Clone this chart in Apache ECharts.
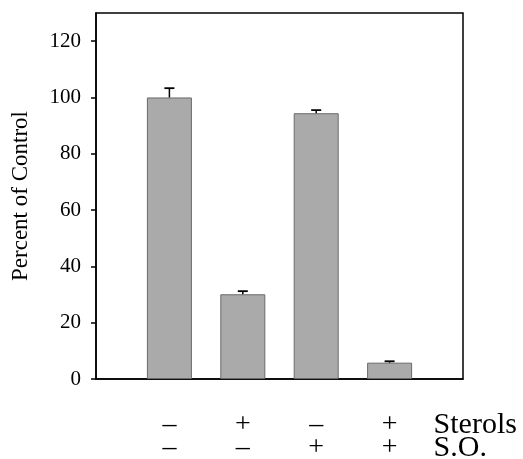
<!DOCTYPE html>
<html>
<head>
<meta charset="utf-8">
<script src="https://cdn.jsdelivr.net/npm/echarts@6/dist/echarts.min.js"></script>
<style>
html,body{margin:0;padding:0;background:#fff;}
#chart{width:523px;height:459px;}
</style>
</head>
<body>
<div id="chart"></div>
<script>
// Data
var positions = [1, 2, 3, 4];
var sterolsRow = ['\u2013', '+', '\u2013', '+'];
var soRow = ['\u2013', '\u2013', '+', '+'];
var rowNames = ['Sterols', 'S.O.'];
var percentValues = [100, 30.1, 94.4, 5.8];
var errorUpper = [103.3, 31.2, 95.5, 6.3];
var yTicks = [0, 20, 40, 60, 80, 100, 120];
var yAxisTitle = 'Percent of Control';

var FONT = "'Liberation Serif', 'Times New Roman', serif";

var chart = echarts.init(document.getElementById('chart'), null, {renderer: 'canvas'});

var barData = positions.map(function (p, i) { return [p, percentValues[i]]; });
var errData = positions.map(function (p, i) { return [p, percentValues[i], errorUpper[i]]; });

var option = {
  backgroundColor: '#fff',
  animation: false,
  grid: {
    left: 96, right: 60, top: 13, bottom: 80,
    outerBoundsMode: 'none', containLabel: false,
    show: true, borderColor: '#000', borderWidth: 1.5, backgroundColor: 'transparent'
  },
  xAxis: {
    type: 'value', min: 0, max: 5, interval: 1,
    axisLine: {show: true, lineStyle: {color: '#000', width: 1.5}},
    axisTick: {show: false},
    splitLine: {show: false},
    axisLabel: {
      margin: 34,
      fontFamily: FONT, fontSize: 28, color: '#000', lineHeight: 23,
      formatter: function (v) {
        var i = positions.indexOf(v);
        if (i < 0) return '';
        return sterolsRow[i] + '\n' + soRow[i];
      }
    }
  },
  yAxis: {
    type: 'value', min: 0, max: 130,
    name: yAxisTitle, nameLocation: 'middle', nameGap: 64,
    nameTextStyle: {fontFamily: FONT, fontSize: 23, color: '#000'},
    axisLine: {show: true, lineStyle: {color: '#000', width: 1.5}},
    axisTick: {show: true, inside: false, length: 5, lineStyle: {color: '#000', width: 1.5}, customValues: yTicks},
    axisLabel: {fontFamily: FONT, fontSize: 21, color: '#000', margin: 15, customValues: yTicks},
    splitLine: {show: false}
  },
  series: [
    {
      type: 'bar',
      data: barData,
      barWidth: 45,
      itemStyle: {color: '#aaaaaa', borderColor: '#6a6a6a', borderWidth: 1}
    },
    {
      type: 'custom',
      data: errData,
      z: 3,
      renderItem: function (params, api) {
        var x = api.value(0);
        var base = api.coord([x, api.value(1)]);
        var top = api.coord([x, api.value(2)]);
        var hw = 5;
        return {
          type: 'group',
          children: [
            {type: 'line', shape: {x1: base[0], y1: base[1], x2: top[0], y2: top[1]}, style: {stroke: '#000', lineWidth: 1.5}},
            {type: 'line', shape: {x1: top[0] - hw, y1: top[1], x2: top[0] + hw, y2: top[1]}, style: {stroke: '#000', lineWidth: 1.8}}
          ]
        };
      }
    }
  ]
};
chart.setOption(option);

// Row names placed just right of the last column, using the axis scale
var lastPx = chart.convertToPixel({xAxisIndex: 0}, positions[positions.length - 1]);
var rowY = chart.convertToPixel({yAxisIndex: 0}, 0);
chart.setOption({
  graphic: [{
    type: 'text',
    left: lastPx + 44,
    top: rowY + 31,
    style: {
      text: rowNames.join('\n'),
      fontFamily: FONT, fontSize: 30, lineHeight: 23, fill: '#000'
    }
  }]
});
</script>
</body>
</html>
